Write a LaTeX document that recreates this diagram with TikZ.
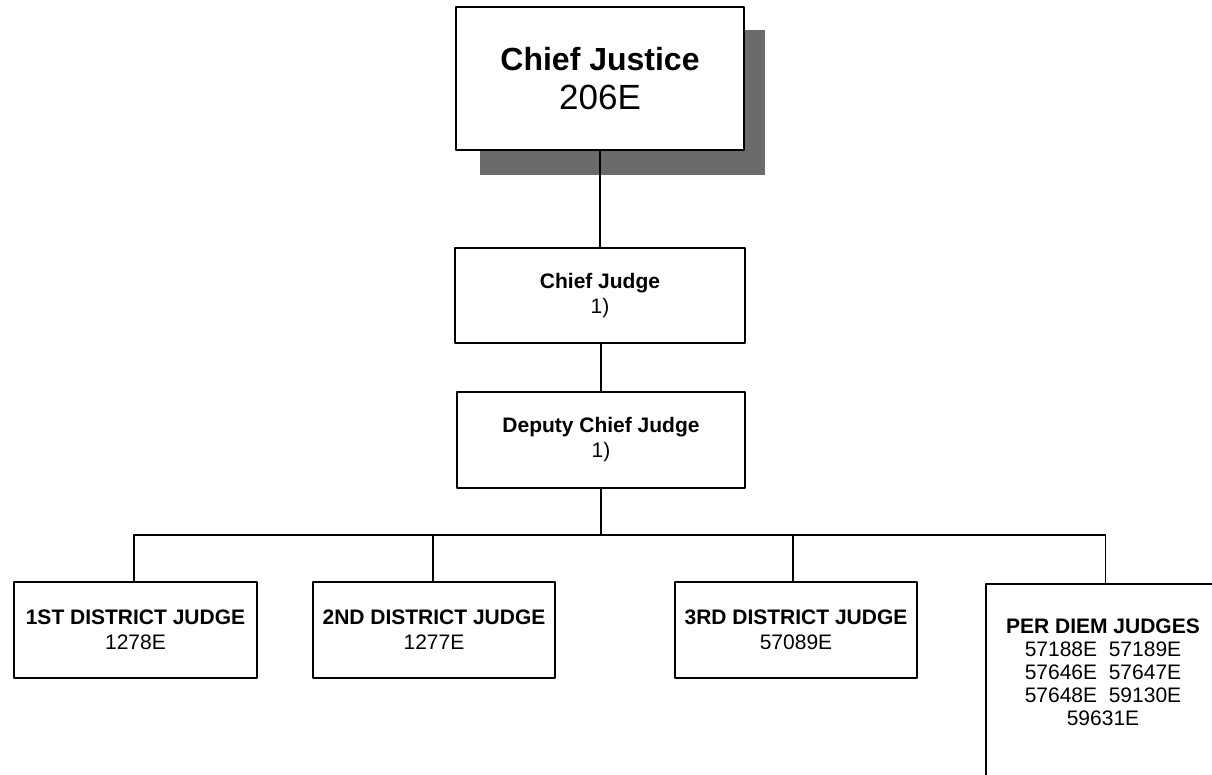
\documentclass[tikz,border=0pt]{standalone}
\usepackage{fontspec}
\setmainfont{Liberation Sans}
\begin{document}
\begin{tikzpicture}[x=1pt,y=-1pt,line cap=round,line join=round,
    post/.style={draw,line width=2.5pt,fill=white,inner sep=0pt,align=center,
      minimum width=242pt,minimum height=96pt,font=\fontsize{21}{25}\selectfont},
    link/.style={line width=1.4pt},
    cjshadow/.style={fill=black!58}]
  \useasboundingbox (0,0) rectangle (1212,775);

  % Top: chief justice with its shadow.
  \fill[cjshadow] (480,30) rectangle (765,175);
  \node[post,minimum width=288pt,minimum height=143pt,font=\fontsize{32}{39}\selectfont]
    (justice) at (600,78.5) {{\bfseries Chief Justice}\\\fontsize{35}{39}\selectfont 206E};

  % Middle: chief judge and deputy.
  \node[post,minimum width=290pt,minimum height=95pt] (chief) at (600,295.5)
    {{\bfseries Chief Judge}\\1)};
  \node[post,minimum width=288pt] (deputy) at (601,440)
    {{\bfseries Deputy Chief Judge}\\1)};

  % Bottom row: district judges.
  \node[post,minimum width=243pt] (first) at (135.5,630) {{\bfseries 1ST DISTRICT JUDGE}\\1278E};
  \node[post] (second) at (434,630) {{\bfseries 2ND DISTRICT JUDGE}\\1277E};
  \node[post] (third) at (796,630) {{\bfseries 3RD DISTRICT JUDGE}\\57089E};

  % Per diem box runs off the page.
  \node[post,minimum width=239pt,minimum height=240pt] (perdiem) at (1105.5,704) {};
  \node[align=center,inner sep=0pt,font=\fontsize{21}{23}\selectfont] (perdiemtext) at (1103,672)
    {{\bfseries PER DIEM JUDGES}\\57188E\ \ 57189E\\57646E\ \ 57647E\\57648E\ \ 59130E\\59631E};

  % Connectors.
  \coordinate (bus) at (601,535);
  \draw[link] (justice.south) -- (justice.south |- chief.north);
  \draw[link] (deputy.north |- chief.south) -- (deputy.north);
  \draw[link] (deputy.south) -- (bus);
  \draw[link] ([xshift=-1.5pt]first.north) |- (bus) -| (perdiem.north);
  \draw[link] ([xshift=-1pt]second.north) -- ([xshift=-1pt]second.north |- bus);
  \draw[link] ([xshift=-3pt]third.north) -- ([xshift=-3pt]third.north |- bus);
\end{tikzpicture}
\end{document}
